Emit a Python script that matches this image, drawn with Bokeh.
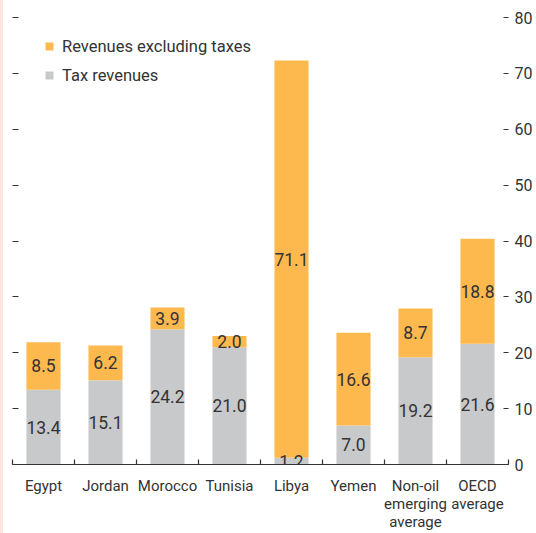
from bokeh.plotting import figure
from bokeh.models import (ColumnDataSource, Range1d, LinearAxis, FixedTicker,
                          LabelSet, Legend, LegendItem)
from bokeh.core.properties import value
from bokeh.embed import file_html
from bokeh.resources import INLINE

categories = ["Egypt", "Jordan", "Morocco", "Tunisia", "Libya", "Yemen",
              "Non-oil\nemerging\naverage", "OECD\naverage"]
tax_revenues = [13.4, 15.1, 24.2, 21.0, 1.2, 7.0, 19.2, 21.6]
revenues_excluding_taxes = [8.5, 6.2, 3.9, 2.0, 71.1, 16.6, 8.7, 18.8]
y_ticks = [0, 10, 20, 30, 40, 50, 60, 70, 80]

FONT = "Roboto"
TEXT = "#333333"
ORANGE = "#FDB94E"
GRAY = "#C8C9CB"
STRIP = "#FBE6DF"

n = len(categories)
xs = [i + 0.5 for i in range(n)]
boundaries = list(range(n + 1))
totals = [t + o for t, o in zip(tax_revenues, revenues_excluding_taxes)]

src = ColumnDataSource(dict(
    x=xs,
    tax=tax_revenues,
    top=totals,
    tax_mid=[t / 2 for t in tax_revenues],
    oth_mid=[t + o / 2 for t, o in zip(tax_revenues, revenues_excluding_taxes)],
    tax_lbl=[f"{v:.1f}" for v in tax_revenues],
    oth_lbl=[f"{v:.1f}" for v in revenues_excluding_taxes],
))

p = figure(width=536, height=533, x_range=Range1d(0, n), y_range=Range1d(0, 80),
           output_backend="svg", toolbar_location=None,
           x_axis_type=None, y_axis_type=None,
           min_border_left=12, min_border_right=28, min_border_top=17,
           min_border_bottom=69, outline_line_color=None,
           background_fill_color="white", border_fill_alpha=0)
p.styles = {"background": f"linear-gradient(to right, {STRIP} 0px, {STRIP} 3px, white 3px, white 100%)"}

r_tax = p.vbar(x="x", bottom=0, top="tax", width=0.55, fill_color=GRAY,
               line_color=None, source=src)
r_oth = p.vbar(x="x", bottom="tax", top="top", width=0.55, fill_color=ORANGE,
               line_color=None, source=src)

xaxis = LinearAxis(ticker=FixedTicker(ticks=xs, minor_ticks=boundaries),
                   major_label_overrides={x: c for x, c in zip(xs, categories)},
                   axis_line_color=TEXT, axis_line_width=1.2,
                   major_tick_line_color=None,
                   minor_tick_in=5, minor_tick_out=0,
                   minor_tick_line_color=TEXT, minor_tick_line_width=1.2,
                   major_label_standoff=6,
                   major_label_text_font=FONT,
                   major_label_text_font_size="15px",
                   major_label_text_line_height=1.0,
                   major_label_text_color=TEXT)
p.add_layout(xaxis, "below")

laxis = LinearAxis(ticker=FixedTicker(ticks=[], minor_ticks=y_ticks),
                   axis_line_color=None, major_tick_line_color=None,
                   minor_tick_in=6, minor_tick_out=0,
                   minor_tick_line_color=TEXT, minor_tick_line_width=1.2)
p.add_layout(laxis, "left")

raxis = LinearAxis(ticker=FixedTicker(ticks=y_ticks),
                   axis_line_color=None,
                   major_tick_in=5, major_tick_out=0,
                   major_tick_line_color=TEXT, major_tick_line_width=1.2,
                   minor_tick_line_color=None,
                   major_label_standoff=6,
                   major_label_text_font=FONT,
                   major_label_text_font_size="16px",
                   major_label_text_color=TEXT)
p.add_layout(raxis, "right")

for ycol, tcol in (("tax_mid", "tax_lbl"), ("oth_mid", "oth_lbl")):
    p.add_layout(LabelSet(x="x", y=ycol, text=tcol, source=src,
                          text_align="center", text_baseline="middle",
                          text_font=value(FONT), text_font_size=value("17.5px"),
                          text_color=TEXT))

legend = Legend(items=[LegendItem(label="Revenues excluding taxes", renderers=[r_oth]),
                       LegendItem(label="Tax revenues", renderers=[r_tax])],
                location=(32, 377), padding=0, margin=0, spacing=5,
                glyph_width=10, glyph_height=10, label_standoff=8,
                label_height=24,
                label_text_font=FONT, label_text_font_size="16.5px",
                label_text_color=TEXT,
                border_line_color=None, background_fill_alpha=0)
p.add_layout(legend, "center")

open("out.html", "w").write(file_html(p, INLINE))
